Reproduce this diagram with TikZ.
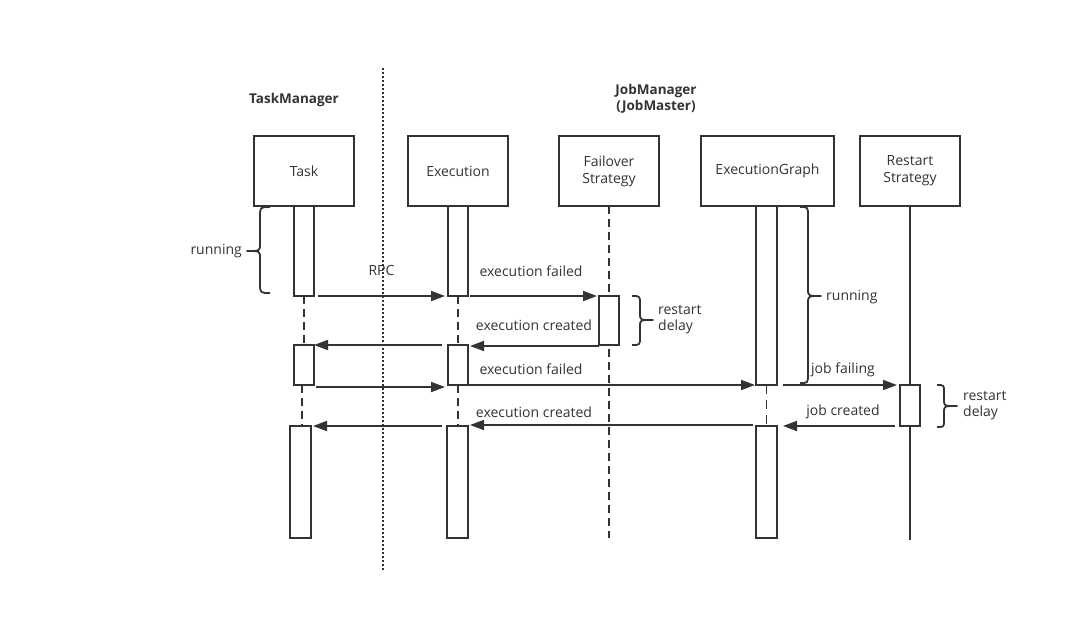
\documentclass[tikz,border=0pt]{standalone}
\usepackage{fontspec}
\setmainfont{Open Sans}
\usetikzlibrary{arrows.meta}
\definecolor{ink}{HTML}{333333}
\begin{document}
\begin{tikzpicture}[x=1pt,y=-1pt,
  every node/.style={text=ink},
  lbl/.style={font=\fontsize{14}{16}\selectfont, inner sep=0pt},
  ttl/.style={font=\bfseries\fontsize{13.5}{16}\selectfont, inner sep=0pt, align=center},
  hdr/.style={draw=ink, line width=1.8pt, fill=white, minimum height=70pt, inner sep=0pt,
    outer sep=0pt, font=\fontsize{14}{17}\selectfont, align=center},
  act/.style={draw=ink, line width=1.8pt, fill=white, minimum width=20pt, inner sep=0pt, outer sep=0pt},
  life/.style={draw=ink, line width=1.8pt, dash pattern=on 8pt off 5pt},
  solidlife/.style={draw=ink, line width=1.8pt},
  msg/.style={draw=ink, line width=1.8pt, -{Triangle[length=14pt,width=10pt]}},
  brc/.style={draw=ink, line width=1.8pt, line join=round},
  sep/.style={draw=ink, line width=2pt, dash pattern=on 2pt off 2pt}
]
\useasboundingbox (0,0) rectangle (1085,633);

% separator
\coordinate (septop) at (383,68);
\coordinate (sepbot) at (383,570);
\draw[sep] (septop) -- (sepbot);

% titles
\node[ttl] (tm) at (294,100) {TaskManager};
\node[ttl] (jm) at (656,99) {JobManager\\(JobMaster)};

% header boxes
\node[hdr, minimum width=100pt] (task) at (304,171) {Task};
\node[hdr, minimum width=100pt] (exec) at (458,171) {Execution};
\node[hdr, minimum width=100pt] (fail) at (609,171) {Failover\\Strategy};
\node[hdr, minimum width=133pt] (graph) at (767.5,171) {ExecutionGraph};
\node[hdr, minimum width=100pt] (rest) at (910,171) {Restart\\Strategy};

% lifeline end points
\coordinate (failend) at (609,538);
\coordinate (restend) at (910,540);

% lifelines (drawn first)
\draw[life] (fail.south) -- (failend);
\draw[solidlife] (rest.south) -- (restend);

% activation boxes
\node[act, minimum height=90pt] (ta1) at (304,251) {};
\node[act, minimum height=40pt] (ta2) at (304,365) {};
\node[act, minimum width=21pt, minimum height=112pt] (ta3) at (300.5,482) {};
\node[act, minimum height=90pt] (ea1) at (458,251) {};
\node[act, minimum height=40pt] (ea2) at (458,365) {};
\node[act, minimum width=21pt, minimum height=112pt] (ea3) at (457.5,482) {};
\node[act, minimum height=49pt] (fa1) at (609,320.5) {};
\node[act, minimum width=21pt, minimum height=179pt] (ga1) at (766.5,295.5) {};
\node[act, minimum width=21pt, minimum height=112pt] (ga2) at (766.5,482) {};
\node[act, minimum height=41pt] (ra1) at (910,405.5) {};

% dashed lifeline pieces between activations
\draw[life] (ta1.south) -- (ta2.north);
\draw[life] ([xshift=-2pt]ta2.south) -- ([xshift=-2pt]ta2.south |- ta3.north);
\draw[life] (ea1.south) -- (ea2.north);
\draw[life] (ea2.south) -- (ea2.south |- ea3.north);
\draw[life, dash pattern=on 9pt off 6pt] (ga1.south) -- (ga2.north);

% messages
\draw[msg] ([xshift=4pt]ta1.south east) -- ([xshift=-3pt]ea1.south west)
  node[lbl, pos=0.5, above=19pt] (rpc) {RPC};
\draw[msg] ([xshift=2pt]ea1.south east) -- ([xshift=-2pt]fa1.north west);
\node[lbl] (ef1) at (531,271) {execution failed};
\draw[msg] ([yshift=-1pt]fa1.south west) -- ([xshift=2pt,yshift=-1pt]fa1.south west -| ea2.north east);
\node[lbl] (ec1) at (534,325) {execution created};
\draw[msg] ([xshift=-6pt]ea2.north west) -- (ta2.north east);
\draw[msg] ([xshift=2pt,yshift=-2pt]ta2.south east) -- ([xshift=-3pt,yshift=-2pt]ea2.south west);
\draw[msg] (ea2.south east) -- ([xshift=-1pt]ga1.south west);
\node[lbl] (ef2) at (531,369) {execution failed};
\draw[msg] ([xshift=6pt]ga1.south east) -- ([xshift=-3pt]ra1.north west);
\node[lbl] (jf) at (843,370) {job failing};
\draw[msg] ([xshift=-5pt]ra1.south west) -- ([xshift=6pt]ra1.south west -| ga2.north east);
\node[lbl] (jc) at (843,412) {job created};
\draw[msg] ([xshift=-3pt,yshift=1pt]ga2.north west) -- ([xshift=2pt,yshift=1pt]ea3.north east);
\node[lbl] (ec2) at (534,412) {execution created};
\draw[msg] ([xshift=-5pt]ea3.north west) -- ([xshift=2pt]ta3.north east);

% braces
\draw[brc] (270,207) .. controls (260,207) .. (260,217) -- (260,244)
  .. controls (260,251) .. (247,251) .. controls (260,251) .. (260,258)
  -- (260,283) .. controls (260,293) .. (270,293);
\node[lbl, anchor=east] (run1) at (242,251.5) {running};

\draw[brc] (632,296) .. controls (640,296) .. (640,304) -- (640,314)
  .. controls (640,320) .. (653,320) .. controls (640,320) .. (640,326)
  -- (640,337) .. controls (640,345) .. (632,345);
\node[lbl, anchor=west, align=left] (rd1) at (658,320) {restart\\delay};

\draw[brc] (800,207) .. controls (808,207) .. (808,216) -- (808,289)
  .. controls (808,296) .. (821,296) .. controls (808,296) .. (808,303)
  -- (808,374) .. controls (808,383) .. (800,383);
\node[lbl, anchor=west] (run2) at (826,297) {running};

\draw[brc] (937,385) .. controls (944,385) .. (944,392) -- (944,400)
  .. controls (944,406) .. (957,406) .. controls (944,406) .. (944,412)
  -- (944,420) .. controls (944,427) .. (937,427);
\node[lbl, anchor=west, align=left] (rd2) at (963,405.5) {restart\\delay};
\end{tikzpicture}
\end{document}
